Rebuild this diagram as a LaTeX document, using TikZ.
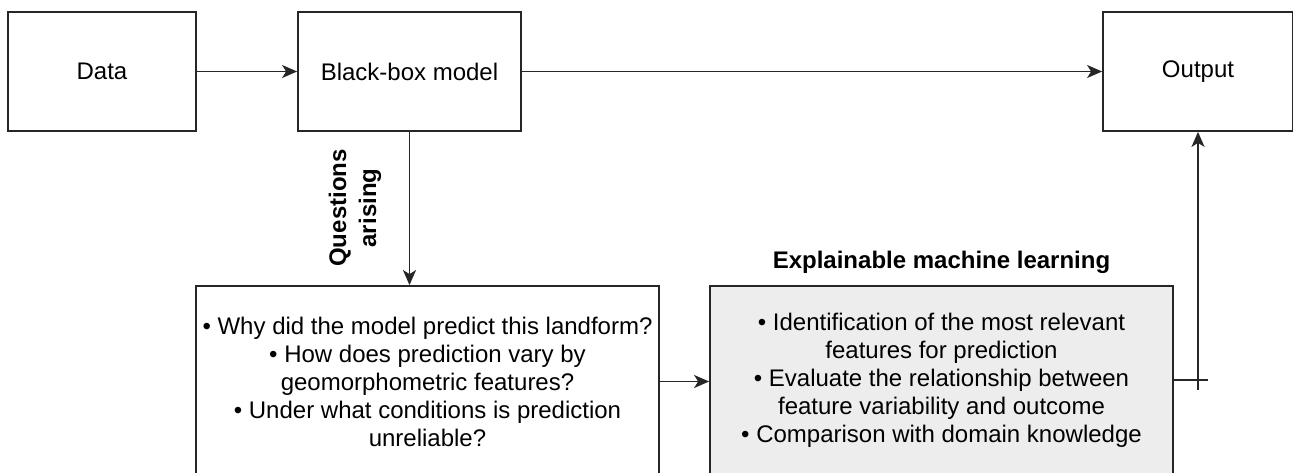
\documentclass[tikz,border=0pt]{standalone}
\usepackage{fontspec}
\setmainfont{Liberation Sans}
\usetikzlibrary{arrows.meta}

\begin{document}
\begin{tikzpicture}[x=1pt, y=-1pt,
  box/.style={draw=black!85, line width=1.8pt, minimum height=119pt, inner sep=0pt,
    font=\fontsize{24}{28}\selectfont, align=center},
  arr/.style={line width=1.8pt, draw=black!85, -{Stealth[length=15pt, width=13pt, inset=4pt]}},
  lin/.style={line width=1.8pt, draw=black!85}]
\useasboundingbox (0,0) rectangle (1293,473);
\clip (0,0) rectangle (1293,473);

% Top row
\node[box, minimum width=188pt] (data) at (102,71.5) {Data};
\node[box, minimum width=223pt] (bbm) at (409.5,71.5) {Black-box model};
\node[box, minimum width=190pt] (out) at (1198,71.5) {Output};

% Bottom row
\node[box, minimum width=463pt, minimum height=191pt] (quest) at (427.5,381.5)
  {\textbullet{} Why did the model predict this landform?\\
   \textbullet{} How does prediction vary by\\
   geomorphometric features?\\
   \textbullet{} Under what conditions is prediction\\
   unreliable?};
\node[box, fill=black!7, minimum width=463pt, minimum height=188pt] (xml) at (941.5,380)
  {\textbullet{} Identification of the most relevant\\
   features for prediction\\
   \textbullet{} Evaluate the relationship between\\
   feature variability and outcome\\
   \textbullet{} Comparison with domain knowledge};
\node[font=\fontsize{24}{28}\selectfont\bfseries] (xmltitle) at (941.5,262)
  {Explainable machine learning};
\node[rotate=90, align=center, font=\fontsize{24}{30}\selectfont\bfseries] (qa) at (355,208)
  {Questions\\arising};

% Arrows
\draw[arr] (data) -- (bbm);
\draw[arr] (bbm) -- (out);
\draw[arr] (bbm.south) -- (bbm.south |- quest.north);
\draw[arr] (quest.east) -- (quest.east -| xml.west);
\coordinate (jn) at (1198,390);
\draw[lin] (xml.east) -- ++(34,0);
\draw[arr] (jn) -- (out.south);
\end{tikzpicture}
\end{document}
